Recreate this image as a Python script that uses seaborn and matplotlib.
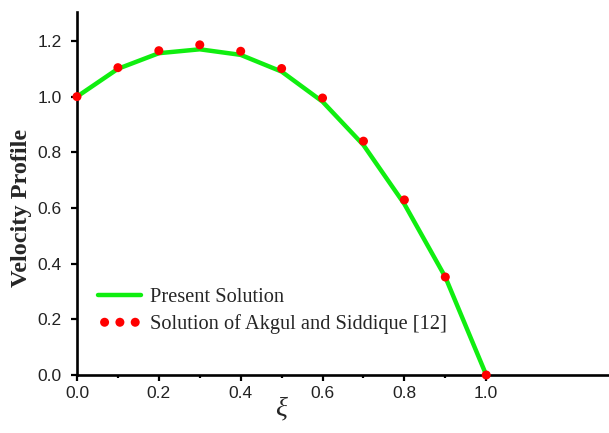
import numpy as np
import pandas as pd
import matplotlib
matplotlib.use("Agg")
import matplotlib.pyplot as plt
import seaborn as sns

# values
xi = [0.0, 0.1, 0.2, 0.3, 0.4, 0.5, 0.6, 0.7, 0.8, 0.9, 1.0]
present = [1.0, 1.10, 1.156, 1.170, 1.150, 1.090, 0.982, 0.826, 0.614, 0.352, 0.0]
akgul = [1.0, 1.104, 1.165, 1.186, 1.163, 1.101, 0.995, 0.840, 0.629, 0.352, 0.0]

df = pd.DataFrame({"xi": xi, "present": present, "akgul": akgul})

sns.set_style("ticks")
plt.rcParams["font.family"] = ["Liberation Sans", "DejaVu Sans"]

fig = plt.figure(figsize=(6.09, 4.33), dpi=100)
ax = fig.add_axes([77/609, 58/433, 532/609, 363/433])

sns.lineplot(data=df, x="xi", y="present", ax=ax, color="#10ee10",
             linewidth=3.2, label="Present Solution", legend=False, zorder=3)
sns.scatterplot(data=df, x="xi", y="akgul", ax=ax, color="#ff0000",
                s=42, edgecolor="none", label="Solution of Akgul and Siddique [12]",
                legend=False, zorder=4, clip_on=False)

ax.set_xlim(0, 1.30)
ax.set_ylim(0, 1.304)
ax.set_xticks([0.0, 0.2, 0.4, 0.6, 0.8, 1.0])
ax.set_xticks([0.1, 0.3, 0.5, 0.7, 0.9], minor=True)
ax.set_yticks([0.0, 0.2, 0.4, 0.6, 0.8, 1.0, 1.2])
ax.set_xticklabels(["0.0", "0.2", "0.4", "0.6", "0.8", "1.0"])
ax.set_yticklabels(["0.0", "0.2", "0.4", "0.6", "0.8", "1.0", "1.2"])

sns.despine(ax=ax)
for s in ["left", "bottom"]:
    ax.spines[s].set_linewidth(1.9)
    ax.spines[s].set_color("black")
ax.tick_params(which="major", length=4.5, width=1.6, labelsize=12.5,
               colors="black", labelcolor="#222222", direction="out")
ax.tick_params(axis="y", which="major", pad=6.5)
ax.tick_params(which="minor", length=2.5, width=1.6, colors="black")

ax.set_xlabel("ξ", family="Liberation Serif", style="italic", fontsize=20)
ax.xaxis.set_label_coords(0.383, -0.06)
ax.set_ylabel("Velocity Profile", family="Liberation Serif", weight="bold", fontsize=17.5)
ax.yaxis.set_label_coords(-0.085, 0.46)

leg = ax.legend(loc="upper left", bbox_to_anchor=(0.025, 0.262), frameon=False,
                prop={"family": "Liberation Serif", "size": 14.7},
                handlelength=2.1, handletextpad=0.4, labelspacing=0.35,
                scatterpoints=3, scatteryoffsets=[0.5], borderaxespad=0)

fig.savefig("out.png", dpi=100)
